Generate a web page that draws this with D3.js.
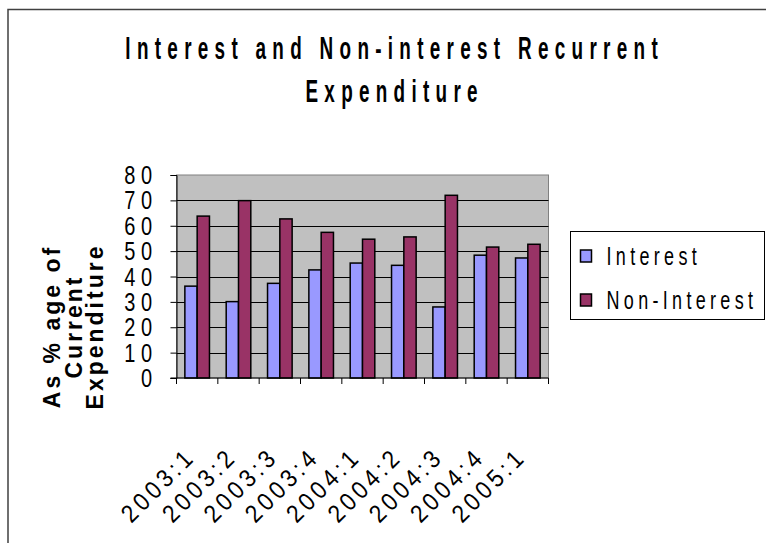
<!DOCTYPE html>
<html>
<head>
<meta charset="utf-8">
<script src="https://cdn.jsdelivr.net/npm/d3@7"></script>
<style>
  body { margin: 0; background: #fff; }
  text { font-family: "Liberation Sans", Arial, sans-serif; fill: #000; }
</style>
</head>
<body>
<div id="chart"></div>
<script>
// data
const categories = ["2003:1", "2003:2", "2003:3", "2003:4", "2004:1", "2004:2", "2004:3", "2004:4", "2005:1"];
const interest = [36.2, 30.1, 37.3, 42.6, 45.3, 44.4, 28.0, 48.4, 47.3];
const nonInterest = [63.8, 69.9, 62.7, 57.4, 54.7, 55.6, 72.0, 51.6, 52.7];
const seriesNames = ["Interest", "Non-Interest"];
const yTicks = [0, 10, 20, 30, 40, 50, 60, 70, 80];
const colors = ["#9999FF", "#993366"];

const svgWidth = 766, svgHeight = 543;
const plot = { left: 176.5, right: 548.5, top: 175, bottom: 378 };

const svg = d3.select("#chart").append("svg")
  .attr("width", svgWidth)
  .attr("height", svgHeight);

// text helper: letter spaced, squeezed along the text direction
function label(parent, str, o) {
  const g = parent.append("g")
    .attr("transform", `translate(${o.x},${o.y}) rotate(${o.rot || 0}) scale(${o.sx || 1},1)`);
  const ls = o.ls || 0;
  const t = g.append("text")
    .attr("font-size", o.size)
    .attr("font-weight", o.weight || "normal")
    .attr("letter-spacing", ls)
    .text(str);
  const w = t.node().getComputedTextLength() - ls;
  const shift = o.anchor === "middle" ? -w / 2 : o.anchor === "end" ? -w : 0;
  t.attr("x", shift);
  return t;
}

// outer frame
svg.append("rect")
  .attr("x", 8).attr("y", 9.5)
  .attr("width", 800).attr("height", 600)
  .attr("fill", "none")
  .attr("stroke", "#404040")
  .attr("stroke-width", 1.5);

// scales
const xScale = d3.scaleBand()
  .domain(categories)
  .range([plot.left, plot.right]);

const xInner = d3.scaleBand()
  .domain(seriesNames)
  .range([0, xScale.bandwidth()])
  .paddingOuter(0.68);

const yScale = d3.scaleLinear()
  .domain([0, 80])
  .range([plot.bottom, plot.top]);

// plot area
svg.append("rect")
  .attr("x", plot.left).attr("y", plot.top)
  .attr("width", plot.right - plot.left)
  .attr("height", plot.bottom - plot.top)
  .attr("fill", "#C0C0C0")
  .attr("stroke", "#808080")
  .attr("stroke-width", 1);

// gridlines
svg.append("g")
  .selectAll("line")
  .data(yTicks.filter(d => d > 0 && d < 80))
  .enter()
  .append("line")
  .attr("x1", plot.left).attr("x2", plot.right)
  .attr("y1", d => Math.round(yScale(d)) + 0.5)
  .attr("y2", d => Math.round(yScale(d)) + 0.5)
  .attr("stroke", "#000")
  .attr("stroke-width", 1);

// bars
const rows = categories.map((c, i) => ({ cat: c, vals: [interest[i], nonInterest[i]] }));

const groups = svg.append("g")
  .selectAll("g")
  .data(rows)
  .enter()
  .append("g")
  .attr("transform", d => `translate(${xScale(d.cat)},0)`);

groups.selectAll("rect")
  .data(d => d.vals.map((v, k) => ({ name: seriesNames[k], v, k })))
  .enter()
  .append("rect")
  .attr("x", d => xInner(d.name))
  .attr("y", d => yScale(d.v))
  .attr("width", xInner.bandwidth())
  .attr("height", d => yScale(0) - yScale(d.v))
  .attr("fill", d => colors[d.k])
  .attr("stroke", "#000")
  .attr("stroke-width", 1.5);

// y axis
const yAxis = d3.axisLeft(yScale)
  .tickValues(yTicks)
  .tickSize(6)
  .tickFormat("");

svg.append("g")
  .attr("transform", `translate(${plot.left},0)`)
  .call(yAxis)
  .call(g => g.select(".domain").attr("stroke", "#000"));

yTicks.forEach(v => {
  label(svg, String(v), { x: 152, y: yScale(v) + 9, size: 25, sx: 0.8, ls: 7, anchor: "end" });
});

// x axis: ticks on the category boundaries
const xAxisG = svg.append("g");
xAxisG.append("line")
  .attr("x1", plot.left - 6).attr("x2", plot.right)
  .attr("y1", plot.bottom).attr("y2", plot.bottom)
  .attr("stroke", "#000");
xAxisG.selectAll(".xt")
  .data(categories.concat([null]))
  .enter()
  .append("line")
  .attr("class", "xt")
  .attr("x1", d => (d === null ? plot.right : xScale(d)))
  .attr("x2", d => (d === null ? plot.right : xScale(d)))
  .attr("y1", plot.bottom).attr("y2", plot.bottom + 6)
  .attr("stroke", "#000");

categories.forEach(c => {
  const cx = xScale(c) + xScale.bandwidth() / 2;
  label(svg, c, { x: cx - 3, y: 461, rot: -45, size: 25, sx: 0.9, ls: 4.5, anchor: "end" });
});

// titles
label(svg, "Interest and Non-interest Recurrent", { x: 391.5, y: 59, size: 31.5, weight: "bold", sx: 0.6, ls: 10.5, anchor: "middle" });
label(svg, "Expenditure", { x: 391.5, y: 101.5, size: 31.5, weight: "bold", sx: 0.6, ls: 10.5, anchor: "middle" });

label(svg, "As % age of", { x: 60, y: 328, rot: -90, size: 23, weight: "bold", ls: 3, anchor: "middle" });
label(svg, "Current", { x: 82, y: 328, rot: -90, size: 23, weight: "bold", ls: 3, anchor: "middle" });
label(svg, "Expenditure", { x: 103, y: 328, rot: -90, size: 23, weight: "bold", ls: 3, anchor: "middle" });

// legend
const legend = svg.append("g");
legend.append("rect")
  .attr("x", 570.5).attr("y", 231.5)
  .attr("width", 194).attr("height", 88)
  .attr("fill", "#fff")
  .attr("stroke", "#000");

seriesNames.forEach((name, k) => {
  const y0 = 256 + k * 44;
  legend.append("rect")
    .attr("x", 580.5).attr("y", y0 - 6)
    .attr("width", 11).attr("height", 12)
    .attr("fill", colors[k])
    .attr("stroke", "#000")
    .attr("stroke-width", 1.5);
  label(legend, name, { x: 606.5, y: y0 + 9, size: 25, sx: 0.72, ls: 6 });
});
</script>
</body>
</html>
